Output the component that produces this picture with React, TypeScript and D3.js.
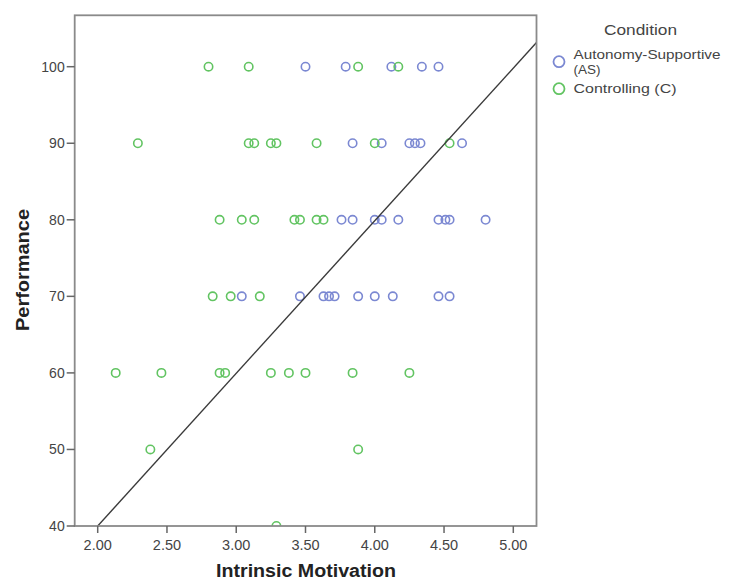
import React from "react";
import * as d3 from "d3";

const asMotivation = [3.50, 3.79, 4.12, 4.34, 4.46,
  3.84, 4.05, 4.25, 4.29, 4.33, 4.63,
  3.76, 3.84, 4.00, 4.05, 4.17, 4.46, 4.51, 4.54, 4.80,
  3.04, 3.46, 3.63, 3.67, 3.71, 3.88, 4.00, 4.13, 4.46, 4.54];
const asPerformance = [100, 100, 100, 100, 100,
  90, 90, 90, 90, 90, 90,
  80, 80, 80, 80, 80, 80, 80, 80, 80,
  70, 70, 70, 70, 70, 70, 70, 70, 70, 70];

const cMotivation = [2.80, 3.09, 3.88, 4.17,
  2.29, 3.09, 3.13, 3.25, 3.29, 3.58, 4.00, 4.54,
  2.88, 3.04, 3.13, 3.42, 3.46, 3.58, 3.63,
  2.83, 2.96, 3.17,
  2.13, 2.46, 2.88, 2.92, 3.25, 3.38, 3.50, 3.84, 4.25,
  2.38, 3.88,
  3.29];
const cPerformance = [100, 100, 100, 100,
  90, 90, 90, 90, 90, 90, 90, 90,
  80, 80, 80, 80, 80, 80, 80,
  70, 70, 70,
  60, 60, 60, 60, 60, 60, 60, 60, 60,
  50, 50,
  40];

const xTicks = [2.0, 2.5, 3.0, 3.5, 4.0, 4.5, 5.0];
const yTicks = [40, 50, 60, 70, 80, 90, 100];
const fitIntercept = 0.12;
const fitSlope = 19.94;
const legendLabels = [["Autonomy-Supportive", "(AS)"], ["Controlling (C)"]];

const BLUE = "#7b88d2";
const GREEN = "#62c462";
const FONT = "'Liberation Sans', Arial, sans-serif";

export default function App() {
  const left = 74.7, right = 536.5, top = 15.3, bottom = 526;
  const x = d3.scaleLinear().domain([2, 5]).range([97.7, 513.3]);
  const y = d3.scaleLinear().domain([40, 100]).range([526, 66.7]);
  const xMin = x.invert(left), xMax = x.invert(right);
  const line = d3.line<number>().x(v => x(v)).y(v => y(fitIntercept + fitSlope * v));
  const fmt = d3.format(".2f");

  const groups = [
    { xs: asMotivation, ys: asPerformance, color: BLUE },
    { xs: cMotivation, ys: cPerformance, color: GREEN },
  ];

  return (
    <svg width={735} height={581} style={{ position: "absolute", left: 0, top: 0, background: "#fff" }}>
      <defs>
        <clipPath id="plotclip">
          <rect x={left} y={top} width={right - left} height={bottom - top} />
        </clipPath>
      </defs>
      <rect x={0} y={0} width={735} height={581} fill="#fff" />
      <g clipPath="url(#plotclip)">
        {groups.map((g, gi) =>
          g.xs.map((v, i) => (
            <circle key={`${gi}-${i}`} cx={x(v)} cy={y(g.ys[i])} r={4.2}
              fill="none" stroke={g.color} strokeWidth={1.6} />
          ))
        )}
        <path d={line([xMin, xMax]) || ""} fill="none" stroke="#3a3a3a" strokeWidth={1.4} />
      </g>
      <rect x={left} y={top} width={right - left} height={bottom - top} fill="none" stroke="#8a8a8a" strokeWidth={1.8} />
      {yTicks.map(t => (
        <g key={t}>
          <line x1={left - 8} x2={left} y1={y(t)} y2={y(t)} stroke="#666" strokeWidth={1.5} />
          <text x={left - 10} y={y(t)} dy="0.35em" textAnchor="end" fontFamily={FONT} fontSize={14} fill="#444">{t}</text>
        </g>
      ))}
      {xTicks.map(t => (
        <g key={t}>
          <line x1={x(t)} x2={x(t)} y1={bottom} y2={bottom + 7} stroke="#666" strokeWidth={1.5} />
          <text x={x(t)} y={549.5} textAnchor="middle" fontFamily={FONT} fontSize={14.5} fill="#444">{fmt(t)}</text>
        </g>
      ))}
      <text x={216} y={576.5} textLength={180} lengthAdjust="spacingAndGlyphs" fontFamily={FONT} fontSize={17.5} fontWeight="bold" fill="#222">Intrinsic Motivation</text>
      <text transform="translate(28.5,331) rotate(-90)" textLength={122} lengthAdjust="spacingAndGlyphs" fontFamily={FONT} fontSize={18} fontWeight="bold" fill="#222">Performance</text>
      <text x={604} y={35} textLength={73} lengthAdjust="spacingAndGlyphs" fontFamily={FONT} fontSize={15.5} fill="#444">Condition</text>
      <circle cx={559} cy={61.7} r={5.5} fill="none" stroke={BLUE} strokeWidth={1.8} />
      <text x={573.5} y={59} textLength={147} lengthAdjust="spacingAndGlyphs" fontFamily={FONT} fontSize={13.5} fill="#444">{legendLabels[0][0]}</text>
      <text x={573.5} y={73.5} textLength={27} lengthAdjust="spacingAndGlyphs" fontFamily={FONT} fontSize={13.5} fill="#444">{legendLabels[0][1]}</text>
      <circle cx={559} cy={88.7} r={5.5} fill="none" stroke={GREEN} strokeWidth={1.8} />
      <text x={573.5} y={92.5} textLength={103} lengthAdjust="spacingAndGlyphs" fontFamily={FONT} fontSize={13.5} fill="#444">{legendLabels[1][0]}</text>
    </svg>
  );
}
